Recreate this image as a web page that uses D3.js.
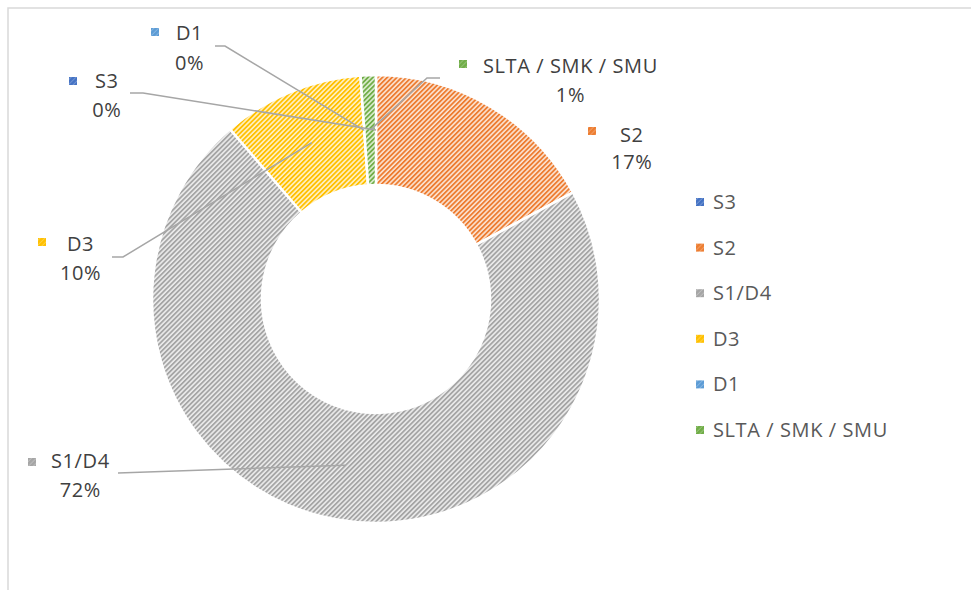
<!DOCTYPE html>
<html>
<head>
<meta charset="utf-8">
<script src="https://cdn.jsdelivr.net/npm/d3@7"></script>
<style>
  html, body { margin: 0; padding: 0; background: #fff; }
  svg { display: block; }
  text { font-family: "Open Sans", Lato, sans-serif; }
</style>
</head>
<body>
<svg id="chart" width="971" height="590"></svg>
<script>
// ---- data ----
const categories = ["S3", "S2", "S1/D4", "D3", "D1", "SLTA / SMK / SMU"];
const values = [0, 17.1, 71.6, 10.2, 0, 1.1];
const pctLabels = ["0%", "17%", "72%", "10%", "0%", "1%"];

// ---- styles ----
const colors = ["#4472c4", "#ed7d31", "#a5a5a5", "#ffc000", "#5b9bd5", "#70ad47"];
const tints  = ["#dde5f4", "#fbe3d3", "#ececec", "#fff1c8", "#dfebf7", "#dcedd0"];

// ---- layout (label placement, not data) ----
const labelLayout = [
  { marker: [73, 81],  nameX: 95,  nameY: 88,  pctY: 117, leader: [[130, 93], [143, 93]] },
  { marker: [592, 131], nameX: 620, nameY: 142, pctY: 169, leader: null },
  { marker: [32, 462], nameX: 51,  nameY: 468, pctY: 497, leader: [[118, 473]] },
  { marker: [42, 242], nameX: 67,  nameY: 251, pctY: 280, leader: [[112, 257], [123, 257]] },
  { marker: [155, 32], nameX: 176, nameY: 40,  pctY: 70,  leader: [[215, 46], [225, 46]] },
  { marker: [463, 64], nameX: 483, nameY: 73,  pctY: 102, leader: [[440, 78], [427, 78]] }
];

const svg = d3.select("#chart");
const cx = 376, cy = 299, rOuter = 224, rInner = 114;
const fontSize = 20, letterSp = 0.6;

// border (chart area frame, partially visible)
svg.append("rect").attr("x", 8).attr("y", 8).attr("width", 1200).attr("height", 1200)
  .attr("fill", "none").attr("stroke", "#d9d9d9").attr("stroke-width", 1.5);

const defs = svg.append("defs");
colors.forEach((c, i) => {
  const p = defs.append("pattern")
    .attr("id", "pat" + i)
    .attr("patternUnits", "userSpaceOnUse")
    .attr("width", 3.4).attr("height", 3.4)
    .attr("patternTransform", "rotate(45)");
  p.append("rect").attr("width", 3.4).attr("height", 3.4).attr("fill", tints[i]);
  p.append("rect").attr("x", 0).attr("width", 1.8).attr("height", 3.4).attr("fill", c);
  const q = defs.append("pattern")
    .attr("id", "mk" + i)
    .attr("patternUnits", "userSpaceOnUse")
    .attr("width", 3.4).attr("height", 3.4)
    .attr("patternTransform", "rotate(45)");
  q.append("rect").attr("width", 3.4).attr("height", 3.4).attr("fill", c).attr("opacity", 0.75);
  q.append("rect").attr("x", 0).attr("width", 2.4).attr("height", 3.4).attr("fill", c);
});
const f = defs.append("filter").attr("id", "soft")
  .attr("x", "-10%").attr("y", "-10%").attr("width", "120%").attr("height", "120%");
f.append("feGaussianBlur").attr("in", "SourceAlpha").attr("stdDeviation", 1.6).attr("result", "b");
f.append("feComposite").attr("in", "SourceGraphic").attr("in2", "b").attr("operator", "in");

const pie = d3.pie().sort(null).value(d => d)(values);
const arc = d3.arc().innerRadius(rInner).outerRadius(rOuter);
const midArc = d3.arc().innerRadius((rInner + rOuter) / 2).outerRadius((rInner + rOuter) / 2);

const g = svg.append("g").attr("transform", `translate(${cx},${cy})`);
g.append("g").attr("filter", "url(#soft)")
  .selectAll("path").data(pie).join("path")
  .attr("d", arc)
  .attr("fill", (d, i) => `url(#pat${i})`)
  .attr("stroke", "#fff").attr("stroke-width", 2.5);

// leader lines
const line = d3.line();
pie.forEach((d, i) => {
  const L = labelLayout[i];
  if (!L.leader) return;
  const c = midArc.centroid(d);
  const pts = L.leader.concat([[c[0] + cx, c[1] + cy]]);
  svg.append("path").attr("d", line(pts))
    .attr("fill", "none").attr("stroke", "#a6a6a6").attr("stroke-width", 1.5);
});

// data labels
categories.forEach((name, i) => {
  const L = labelLayout[i];
  svg.append("rect")
    .attr("x", L.marker[0] - 4).attr("y", L.marker[1] - 4)
    .attr("width", 8).attr("height", 8)
    .attr("fill", `url(#mk${i})`);
  const t = svg.append("text").attr("x", L.nameX).attr("y", L.nameY)
    .attr("font-size", fontSize).attr("letter-spacing", letterSp)
    .attr("fill", "#404040").text(name);
  const w = t.node().getComputedTextLength();
  svg.append("text").attr("x", L.nameX + w / 2).attr("y", L.pctY)
    .attr("text-anchor", "middle").attr("letter-spacing", letterSp)
    .attr("font-size", fontSize).attr("fill", "#404040").text(pctLabels[i]);
});

// legend
const legY = d3.scalePoint().domain(categories).range([209, 437]);
const leg = svg.append("g").selectAll("g").data(categories).join("g")
  .attr("transform", d => `translate(0,${legY(d)})`);
leg.append("rect").attr("x", 696).attr("y", -11).attr("width", 8).attr("height", 8)
  .attr("fill", (d, i) => `url(#mk${i})`);
leg.append("text").attr("x", 713).attr("y", 0)
  .attr("font-size", fontSize).attr("letter-spacing", letterSp)
  .attr("fill", "#595959").text(d => d);
</script>
</body>
</html>
